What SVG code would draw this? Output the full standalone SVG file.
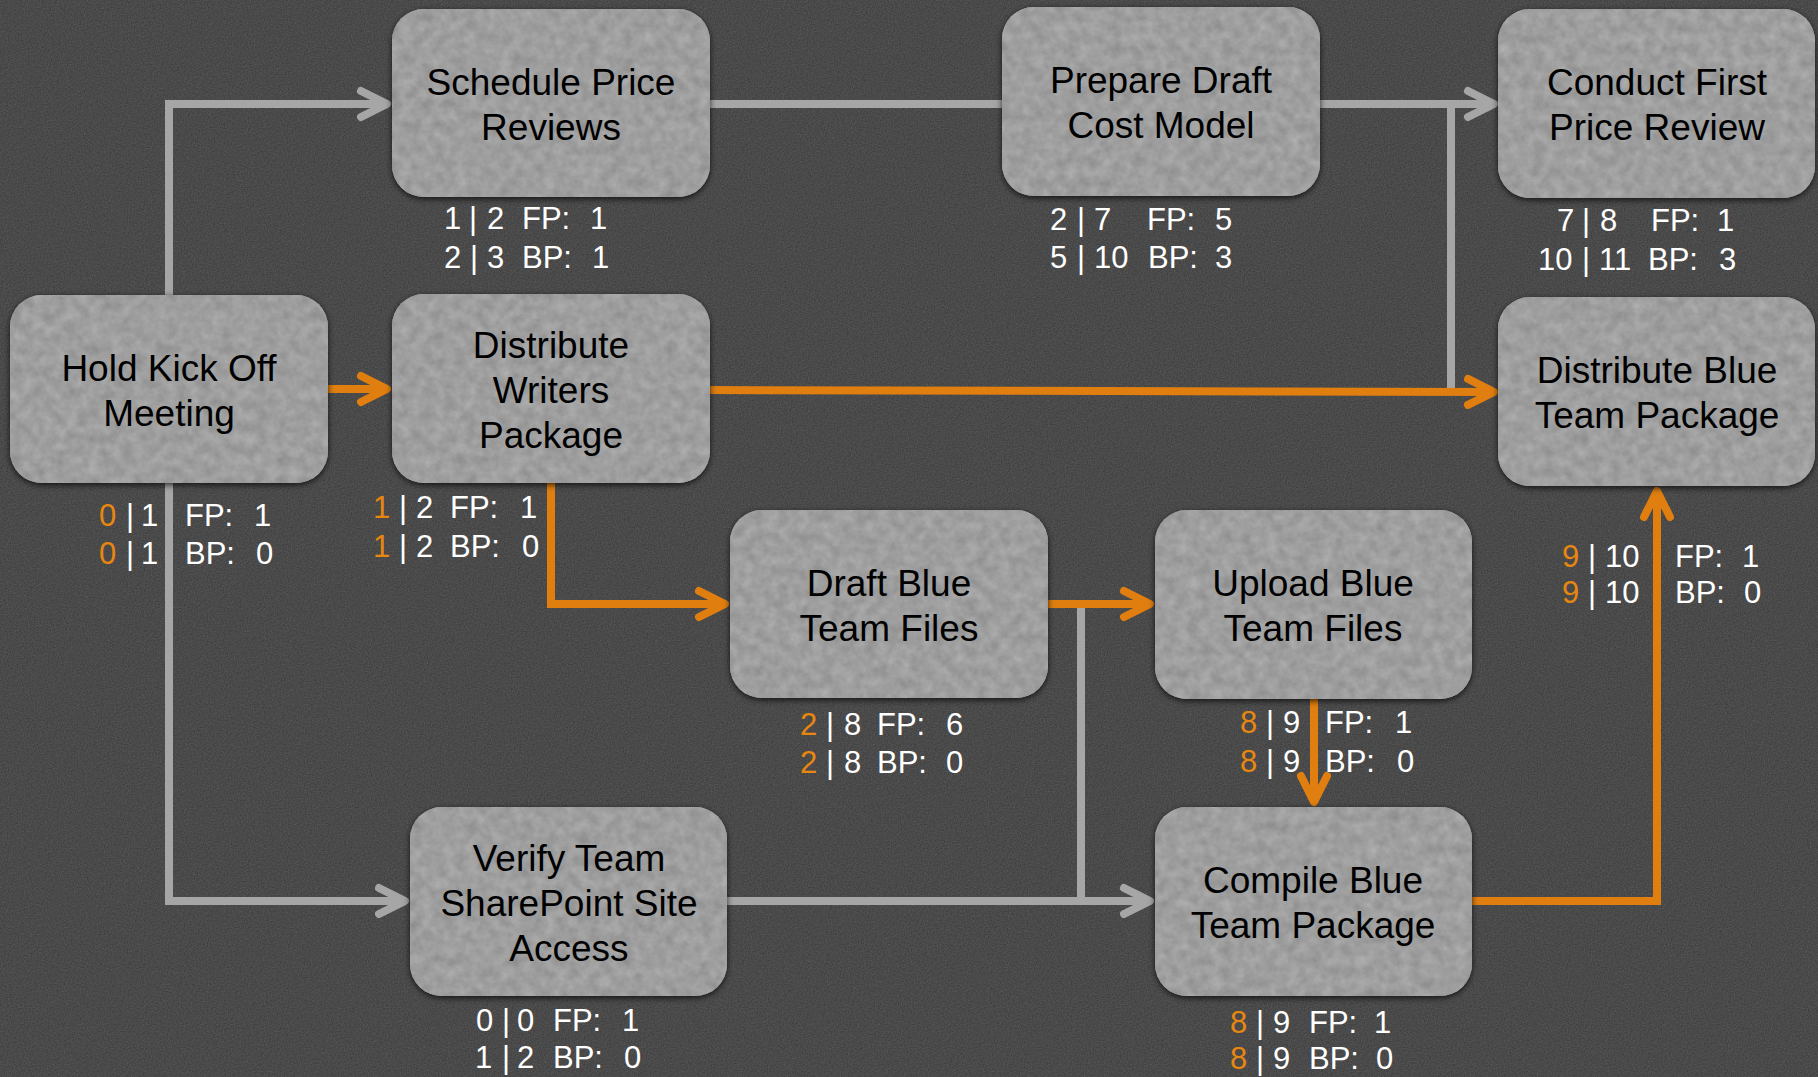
<svg xmlns="http://www.w3.org/2000/svg" width="1818" height="1077" viewBox="0 0 1818 1077">
<style>
.cg{fill:none;stroke:#a6a6a6;stroke-width:8;stroke-linejoin:miter}
.co{fill:none;stroke:#e07e10;stroke-width:8;stroke-linejoin:miter}
.box{fill:#9d9d9d;filter:url(#sh)}
.tex{fill:#9d9d9d;filter:url(#ntex)}
.nt{font-family:"Liberation Sans",Arial,sans-serif;font-size:37px;fill:#000;text-anchor:middle}
.lb{font-family:"Liberation Sans",Arial,sans-serif;font-size:31px;fill:#fff}
.or{fill:#e8870f}
</style>
<defs>
<filter id="noise" x="0" y="0" width="100%" height="100%" color-interpolation-filters="sRGB">
<feTurbulence type="fractalNoise" baseFrequency="0.7" numOctaves="2" seed="2"/>
<feColorMatrix type="matrix" values="0.14 0 0 0 0.22  0.14 0 0 0 0.22  0.14 0 0 0 0.22  0 0 0 0 1"/>
</filter>
<filter id="sh" x="-10%" y="-10%" width="120%" height="125%">
<feDropShadow dx="0" dy="2" stdDeviation="3" flood-color="#000" flood-opacity="0.75"/>
</filter>
<filter id="ntex" x="0" y="0" width="100%" height="100%" color-interpolation-filters="sRGB">
<feTurbulence type="fractalNoise" baseFrequency="0.09" numOctaves="4" seed="7" result="t"/>
<feColorMatrix in="t" type="matrix" values="0.16 0 0 0 0.54  0.16 0 0 0 0.54  0.16 0 0 0 0.54  0 0 0 0 1" result="m"/>
<feComposite in="m" in2="SourceGraphic" operator="in"/>
</filter>
<marker id="ag" markerUnits="userSpaceOnUse" orient="auto" markerWidth="60" markerHeight="60" viewBox="-40 -30 60 60" refX="0" refY="0" overflow="visible">
<path d="M-26,-13 L0,0 L-26,13" fill="none" stroke="#a6a6a6" stroke-width="8" stroke-linecap="round" stroke-linejoin="round"/>
</marker>
<marker id="ao" markerUnits="userSpaceOnUse" orient="auto" markerWidth="60" markerHeight="60" viewBox="-40 -30 60 60" refX="0" refY="0" overflow="visible">
<path d="M-26,-13 L0,0 L-26,13" fill="none" stroke="#e07e10" stroke-width="8" stroke-linecap="round" stroke-linejoin="round"/>
</marker>
</defs>
<rect x="0" y="0" width="1818" height="1077" fill="#4b4b4b" filter="url(#noise)"/>

<g id="connectors">
<path class="cg" d="M169,300 L169,104 L387,104" marker-end="url(#ag)"/>
<path class="cg" d="M169,480 L169,901 L405,901" marker-end="url(#ag)"/>
<path class="cg" d="M705,104 L1005,104"/>
<path class="cg" d="M1315,104 L1494,104" marker-end="url(#ag)"/>
<path class="cg" d="M1451,104 L1451,390"/>
<path class="cg" d="M1040,604 L1081,604 L1081,901"/>
<path class="cg" d="M722,901 L1150,901" marker-end="url(#ag)"/>
<path class="co" d="M322,389 L387,389" marker-end="url(#ao)"/>
<path class="co" d="M705,390 L1494,392" marker-end="url(#ao)"/>
<path class="co" d="M551,478 L551,604 L725,604" marker-end="url(#ao)"/>
<path class="co" d="M1043,604 L1150,604" marker-end="url(#ao)"/>
<path class="co" d="M1314,694 L1314,802" marker-end="url(#ao)"/>
<path class="co" d="M1467,901 L1657,901 L1657,491" marker-end="url(#ao)"/>
</g>

<g id="n-schedule">
<rect class="box" x="392" y="9" width="318" height="188" rx="32"/>
<rect class="tex" x="392" y="9" width="318" height="188" rx="32"/>
<text class="nt"><tspan x="551" y="95">Schedule Price</tspan><tspan x="551" y="140">Reviews</tspan></text>
</g>
<g id="n-prepare">
<rect class="box" x="1002" y="7" width="318" height="189" rx="32"/>
<rect class="tex" x="1002" y="7" width="318" height="189" rx="32"/>
<text class="nt"><tspan x="1161" y="93">Prepare Draft</tspan><tspan x="1161" y="138">Cost Model</tspan></text>
</g>
<g id="n-conduct">
<rect class="box" x="1498" y="9" width="317" height="189" rx="32"/>
<rect class="tex" x="1498" y="9" width="317" height="189" rx="32"/>
<text class="nt"><tspan x="1657" y="95">Conduct First</tspan><tspan x="1657" y="140">Price Review</tspan></text>
</g>
<g id="n-holdkickoff">
<rect class="box" x="10" y="295" width="318" height="188" rx="32"/>
<rect class="tex" x="10" y="295" width="318" height="188" rx="32"/>
<text class="nt"><tspan x="169" y="381">Hold Kick Off</tspan><tspan x="169" y="426">Meeting</tspan></text>
</g>
<g id="n-distwriters">
<rect class="box" x="392" y="294" width="318" height="189" rx="32"/>
<rect class="tex" x="392" y="294" width="318" height="189" rx="32"/>
<text class="nt"><tspan x="551" y="358">Distribute</tspan><tspan x="551" y="403">Writers</tspan><tspan x="551" y="448">Package</tspan></text>
</g>
<g id="n-distblue">
<rect class="box" x="1498" y="297" width="317" height="189" rx="32"/>
<rect class="tex" x="1498" y="297" width="317" height="189" rx="32"/>
<text class="nt"><tspan x="1657" y="383">Distribute Blue</tspan><tspan x="1657" y="428">Team Package</tspan></text>
</g>
<g id="n-draftblue">
<rect class="box" x="730" y="510" width="318" height="188" rx="32"/>
<rect class="tex" x="730" y="510" width="318" height="188" rx="32"/>
<text class="nt"><tspan x="889" y="596">Draft Blue</tspan><tspan x="889" y="641">Team Files</tspan></text>
</g>
<g id="n-uploadblue">
<rect class="box" x="1155" y="510" width="317" height="189" rx="32"/>
<rect class="tex" x="1155" y="510" width="317" height="189" rx="32"/>
<text class="nt"><tspan x="1313" y="596">Upload Blue</tspan><tspan x="1313" y="641">Team Files</tspan></text>
</g>
<g id="n-verify">
<rect class="box" x="410" y="807" width="317" height="189" rx="32"/>
<rect class="tex" x="410" y="807" width="317" height="189" rx="32"/>
<text class="nt"><tspan x="569" y="871">Verify Team</tspan><tspan x="569" y="916">SharePoint Site</tspan><tspan x="569" y="961">Access</tspan></text>
</g>
<g id="n-compile">
<rect class="box" x="1155" y="807" width="317" height="189" rx="32"/>
<rect class="tex" x="1155" y="807" width="317" height="189" rx="32"/>
<text class="nt"><tspan x="1313" y="893">Compile Blue</tspan><tspan x="1313" y="938">Team Package</tspan></text>
</g>

<g id="labels">
<text class="lb" y="229"><tspan x="444">1</tspan><tspan x="469">|</tspan><tspan x="487">2</tspan><tspan x="522">FP:</tspan><tspan x="590">1</tspan></text>
<text class="lb" y="268"><tspan x="444">2</tspan><tspan x="470">|</tspan><tspan x="487">3</tspan><tspan x="522">BP:</tspan><tspan x="592">1</tspan></text>

<text class="lb" y="230"><tspan x="1050">2</tspan><tspan x="1077">|</tspan><tspan x="1094">7</tspan><tspan x="1147">FP:</tspan><tspan x="1215">5</tspan></text>
<text class="lb" y="268"><tspan x="1050">5</tspan><tspan x="1077">|</tspan><tspan x="1094">10</tspan><tspan x="1148">BP:</tspan><tspan x="1215">3</tspan></text>

<text class="lb" y="231"><tspan x="1557">7</tspan><tspan x="1582">|</tspan><tspan x="1600">8</tspan><tspan x="1651">FP:</tspan><tspan x="1717">1</tspan></text>
<text class="lb" y="270"><tspan x="1538">10</tspan><tspan x="1582">|</tspan><tspan x="1599">11</tspan><tspan x="1648">BP:</tspan><tspan x="1719">3</tspan></text>

<text class="lb" y="526"><tspan x="99" class="or">0</tspan><tspan x="126">|</tspan><tspan x="141">1</tspan><tspan x="185">FP:</tspan><tspan x="254">1</tspan></text>
<text class="lb" y="564"><tspan x="99" class="or">0</tspan><tspan x="126">|</tspan><tspan x="141">1</tspan><tspan x="185">BP:</tspan><tspan x="256">0</tspan></text>

<text class="lb" y="518"><tspan x="373" class="or">1</tspan><tspan x="399">|</tspan><tspan x="416">2</tspan><tspan x="450">FP:</tspan><tspan x="520">1</tspan></text>
<text class="lb" y="557"><tspan x="373" class="or">1</tspan><tspan x="399">|</tspan><tspan x="416">2</tspan><tspan x="450">BP:</tspan><tspan x="522">0</tspan></text>

<text class="lb" y="567"><tspan x="1562" class="or">9</tspan><tspan x="1588">|</tspan><tspan x="1605">10</tspan><tspan x="1675">FP:</tspan><tspan x="1742">1</tspan></text>
<text class="lb" y="603"><tspan x="1562" class="or">9</tspan><tspan x="1588">|</tspan><tspan x="1605">10</tspan><tspan x="1675">BP:</tspan><tspan x="1744">0</tspan></text>

<text class="lb" y="735"><tspan x="800" class="or">2</tspan><tspan x="826">|</tspan><tspan x="844">8</tspan><tspan x="877">FP:</tspan><tspan x="946">6</tspan></text>
<text class="lb" y="773"><tspan x="800" class="or">2</tspan><tspan x="826">|</tspan><tspan x="844">8</tspan><tspan x="877">BP:</tspan><tspan x="946">0</tspan></text>

<text class="lb" y="733"><tspan x="1240" class="or">8</tspan><tspan x="1266">|</tspan><tspan x="1283">9</tspan><tspan x="1325">FP:</tspan><tspan x="1395">1</tspan></text>
<text class="lb" y="772"><tspan x="1240" class="or">8</tspan><tspan x="1266">|</tspan><tspan x="1283">9</tspan><tspan x="1325">BP:</tspan><tspan x="1397">0</tspan></text>

<text class="lb" y="1031"><tspan x="476">0</tspan><tspan x="502">|</tspan><tspan x="517">0</tspan><tspan x="553">FP:</tspan><tspan x="622">1</tspan></text>
<text class="lb" y="1068"><tspan x="475">1</tspan><tspan x="502">|</tspan><tspan x="517">2</tspan><tspan x="553">BP:</tspan><tspan x="624">0</tspan></text>

<text class="lb" y="1033"><tspan x="1230" class="or">8</tspan><tspan x="1256">|</tspan><tspan x="1273">9</tspan><tspan x="1309">FP:</tspan><tspan x="1374">1</tspan></text>
<text class="lb" y="1069"><tspan x="1230" class="or">8</tspan><tspan x="1256">|</tspan><tspan x="1273">9</tspan><tspan x="1309">BP:</tspan><tspan x="1376">0</tspan></text>
</g>
</svg>
